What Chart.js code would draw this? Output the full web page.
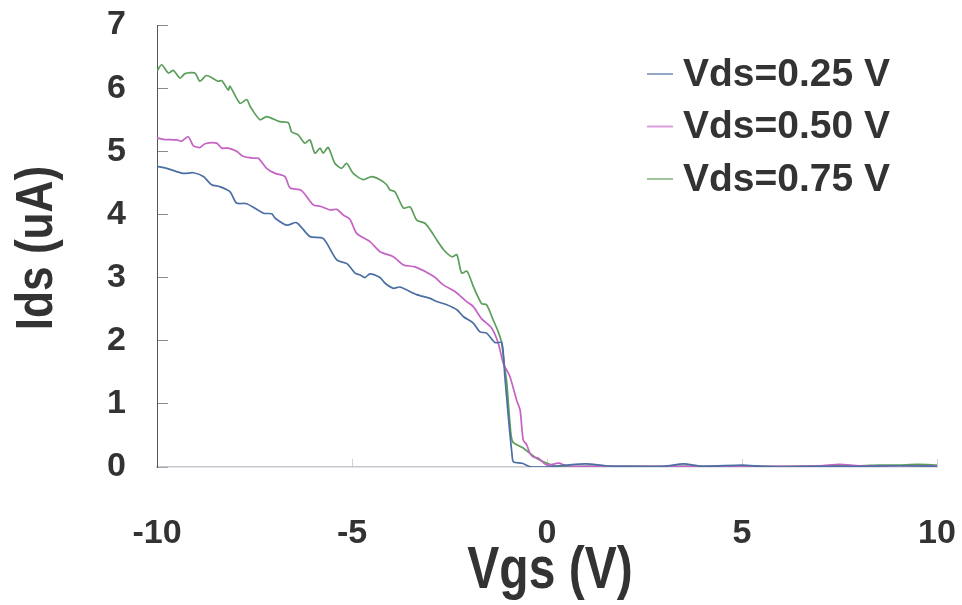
<!DOCTYPE html>
<html>
<head>
<meta charset="utf-8">
<script src="https://cdn.jsdelivr.net/npm/chart.js@4/dist/chart.umd.min.js"></script>
<style>
  html, body { margin: 0; padding: 0; background: #ffffff; }
  #wrap { width: 962px; height: 605px; }
</style>
</head>
<body>
<div id="wrap"><canvas id="c" width="962" height="605"></canvas></div>
<script>
// Transfer curves Ids(Vgs) for three drain biases
const seriesLabels = ['Vds=0.25 V', 'Vds=0.50 V', 'Vds=0.75 V'];
const xTitle = 'Vgs (V)';
const yTitle = 'Ids (uA)';
const xTicks = [-10, -5, 0, 5, 10];
const yTicks = [0, 1, 2, 3, 4, 5, 6, 7];

const vgs025 = [-10, -9.75, -9.33, -9.07, -8.81, -8.6, -8.39, -8.13, -7.96, -7.7,
  -7.27, -7.06, -6.97, -6.67, -6.42, -6.08, -5.74, -5.39, -5.13, -4.92,
  -4.79, -4.67, -4.54, -4.28, -4.15, -3.94, -3.77, -3.34, -3.0, -2.83,
  -2.57, -2.31, -2.14, -1.89, -1.72, -1.55, -1.33, -1.16, -1.08, -0.99,
  -0.9, -0.86, -0.64, -0.4, 0, 0.5, 1, 1.5, 2, 3,
  3.5, 4, 5, 5.5, 6, 7, 8, 9, 10];
const ids025 = [4.76, 4.73, 4.65, 4.66, 4.6, 4.47, 4.44, 4.36, 4.18, 4.17,
  4.02, 4.01, 3.94, 3.83, 3.87, 3.65, 3.62, 3.28, 3.22, 3.07,
  3.04, 3.0, 3.06, 3.0, 2.91, 2.83, 2.85, 2.73, 2.67, 2.62,
  2.57, 2.49, 2.38, 2.28, 2.14, 2.12, 1.97, 1.97, 1.43, 0.79,
  0.22, 0.08, 0.06, 0.0, 0.0, 0.03, 0.05, 0.02, 0.01, 0.01,
  0.05, 0.01, 0.03, 0.01, 0.0, 0.01, 0.01, 0.02, 0.01];

const vgs050 = [-10, -9.84, -9.5, -9.37, -9.2, -9.07, -8.9, -8.77, -8.47, -8.34,
  -8.17, -7.96, -7.79, -7.53, -7.4, -7.19, -6.97, -6.72, -6.59, -6.3,
  -5.99, -5.82, -5.56, -5.39, -5.22, -5.05, -4.88, -4.54, -4.28, -3.94,
  -3.68, -3.38, -2.91, -2.65, -2.36, -2.06, -1.89, -1.68, -1.42, -1.25,
  -1.12, -0.95, -0.78, -0.69, -0.61, -0.52, -0.44, -0.35, -0.22, 0,
  0.3, 0.5, 1, 2, 3, 4, 5, 6, 7, 7.5, 8, 9, 10];
const ids050 = [5.21, 5.19, 5.18, 5.16, 5.23, 5.09, 5.06, 5.12, 5.13, 5.05,
  5.05, 5.0, 4.92, 4.89, 4.89, 4.73, 4.65, 4.6, 4.42, 4.38,
  4.15, 4.13, 4.07, 4.08, 3.99, 3.92, 3.7, 3.57, 3.41, 3.33,
  3.2, 3.17, 3.02, 2.88, 2.78, 2.62, 2.54, 2.35, 2.2, 1.96,
  1.64, 1.43, 1.06, 0.9, 0.43, 0.35, 0.22, 0.16, 0.14, 0.03,
  0.06, 0.02, 0.01, 0.01, 0.01, 0.01, 0.01, 0.01, 0.02, 0.04, 0.02, 0.02, 0.02];

const vgs075 = [-10, -9.88, -9.71, -9.58, -9.41, -9.28, -9.03, -8.9, -8.73, -8.43,
  -8.34, -8.17, -8.13, -7.87, -7.7, -7.61, -7.36, -7.19, -6.85, -6.63,
  -6.55, -6.38, -6.21, -6.08, -5.95, -5.82, -5.74, -5.61, -5.44, -5.27,
  -5.14, -4.97, -4.71, -4.5, -4.28, -4.11, -4.03, -3.9, -3.68, -3.51,
  -3.34, -3.13, -3.0, -2.83, -2.65, -2.44, -2.31, -2.19, -2.05, -1.89,
  -1.68, -1.55, -1.38, -1.25, -1.16, -1.1, -1.03, -0.95, -0.88, -0.61,
  -0.27, 0, 0.3, 1, 2, 3, 4, 5, 6, 7,
  8, 8.5, 9, 9.5, 10];
const ids075 = [6.27, 6.37, 6.24, 6.28, 6.16, 6.23, 6.24, 6.11, 6.2, 6.11,
  6.12, 5.97, 6.03, 5.76, 5.82, 5.71, 5.5, 5.55, 5.47, 5.45,
  5.31, 5.26, 5.13, 5.18, 4.97, 5.05, 4.97, 5.06, 4.81, 4.73,
  4.81, 4.65, 4.55, 4.6, 4.55, 4.47, 4.39, 4.36, 4.1, 4.12,
  3.91, 3.86, 3.76, 3.6, 3.44, 3.33, 3.36, 3.07, 3.1, 2.86,
  2.59, 2.57, 2.33, 2.14, 1.96, 1.64, 1.32, 0.69, 0.4, 0.3,
  0.14, 0.06, 0.0, 0.01, 0.01, 0.01, 0.01, 0.01, 0.01, 0.02,
  0.02, 0.03, 0.03, 0.04, 0.03];

const lineColors = ['#4c6fa3', '#c463c4', '#5a9e5a'];

const toPoints = (xs, ys) => xs.map((x, i) => ({ x: x, y: ys[i] }));
const curves = [[vgs025, ids025], [vgs050, ids050], [vgs075, ids075]];

const TEXT = '#333333';
const SANS = '"Liberation Sans", Arial, sans-serif';

// Vertical legend in the upper right of the plot area
const sideLegend = {
  id: 'sideLegend',
  afterDraw(chart) {
    const { ctx, chartArea } = chart;
    const x0 = chartArea.right - 290;
    const y0 = chartArea.top + 49;
    const step = 52.5;
    ctx.save();
    chart.data.datasets.forEach((ds, i) => {
      const y = y0 + i * step;
      ctx.strokeStyle = ds.borderColor;
      ctx.globalAlpha = 0.6;
      ctx.lineWidth = 2;
      ctx.beginPath();
      ctx.moveTo(x0, y);
      ctx.lineTo(x0 + 26, y);
      ctx.stroke();
      ctx.globalAlpha = 1;
      ctx.fillStyle = TEXT;
      ctx.font = 'bold 39px ' + SANS;
      ctx.textBaseline = 'middle';
      ctx.textAlign = 'left';
      ctx.fillText(ds.label, x0 + 36, y + 1);
    });
    ctx.restore();
  }
};

// Condensed bold axis titles
const axisTitles = {
  id: 'axisTitles',
  afterDraw(chart) {
    const { ctx, chartArea } = chart;
    ctx.save();
    ctx.fillStyle = TEXT;
    ctx.textAlign = 'center';
    ctx.textBaseline = 'alphabetic';

    // horizontal axis title
    ctx.save();
    ctx.translate((chartArea.left + chartArea.right) / 2 + 3, chartArea.bottom + 121);
    ctx.scale(0.8, 1);
    ctx.font = 'bold 60px ' + SANS;
    ctx.fillText(xTitle, 0, 0);
    ctx.restore();

    // vertical axis title
    ctx.save();
    ctx.translate(52, (chartArea.top + chartArea.bottom) / 2 + 2);
    ctx.rotate(-Math.PI / 2);
    ctx.scale(0.85, 1);
    ctx.font = 'bold 52px ' + SANS;
    ctx.fillText(yTitle, 0, 0);
    ctx.restore();

    ctx.restore();
  }
};

new Chart(document.getElementById('c'), {
  type: 'line',
  data: {
    datasets: curves.map((c, i) => ({
      label: seriesLabels[i],
      data: toPoints(c[0], c[1]),
      borderColor: lineColors[i],
      backgroundColor: lineColors[i],
      borderWidth: 1.7,
      pointRadius: 0,
      tension: 0.25,
      fill: false
    }))
  },
  options: {
    responsive: false,
    animation: false,
    devicePixelRatio: 1,
    layout: { padding: { left: 0, right: 25, top: 25, bottom: 0 } },
    plugins: {
      legend: { display: false },
      tooltip: { enabled: false }
    },
    scales: {
      x: {
        type: 'linear',
        min: xTicks[0],
        max: xTicks[xTicks.length - 1],
        afterBuildTicks: s => { s.ticks = xTicks.map(v => ({ value: v })); },
        afterFit: s => { s.height = 138; s.paddingLeft = 0; s.paddingRight = 0; },
        ticks: {
          color: TEXT,
          font: { family: SANS, size: 34, weight: 'bold' },
          padding: 54,
          maxRotation: 0
        },
        grid: { drawOnChartArea: false, drawTicks: true, tickLength: -8, color: '#d2d2d2', lineWidth: 1 },
        border: { display: true, color: '#c6cad0', width: 1.5 },
        title: { display: false }
      },
      y: {
        type: 'linear',
        min: yTicks[0],
        max: yTicks[yTicks.length - 1],
        afterBuildTicks: s => { s.ticks = yTicks.map(v => ({ value: v })); },
        afterFit: s => { s.width = 157; s.paddingTop = 0; s.paddingBottom = 0; },
        ticks: {
          color: TEXT,
          font: { family: SANS, size: 34, weight: 'bold' },
          padding: 42
        },
        grid: { drawOnChartArea: false, drawTicks: true, tickLength: -11, color: '#8a8a8a', lineWidth: 1 },
        border: { display: true, color: '#555555', width: 1 },
        title: { display: false }
      }
    }
  },
  plugins: [sideLegend, axisTitles]
});
</script>
</body>
</html>
